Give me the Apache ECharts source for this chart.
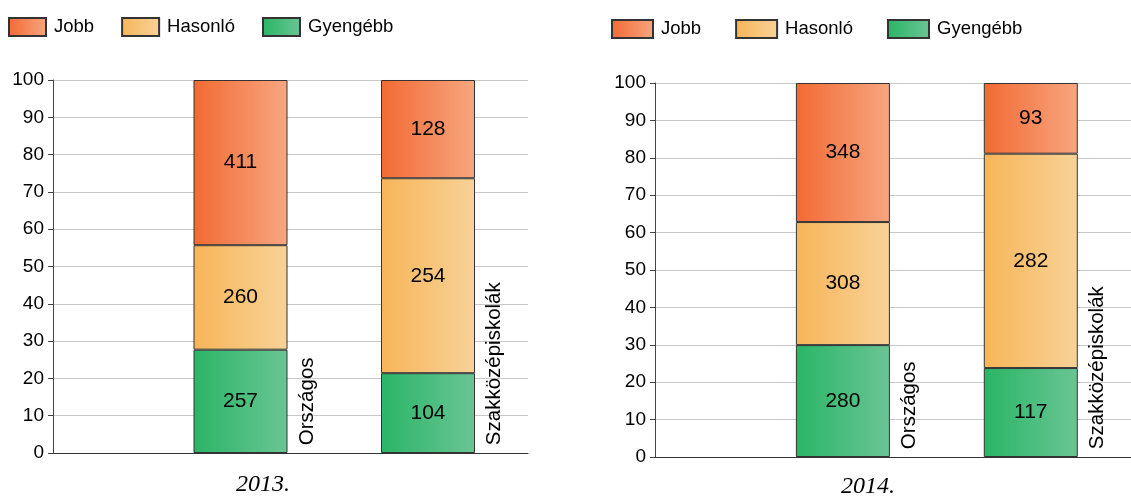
<!DOCTYPE html>
<html>
<head>
<meta charset="utf-8">
<script src="https://cdn.jsdelivr.net/npm/echarts@6/dist/echarts.min.js"></script>
<style>
  html, body { margin: 0; padding: 0; background: #fff; }
  #chart { width: 1131px; height: 498px; }
</style>
</head>
<body>
<div id="chart"></div>
<script>
const seriesNames = ['Jobb', 'Hasonló', 'Gyengébb'];
const categories = ['Országos', 'Szakközépiskolák'];
const years = ['2013.', '2014.'];

const jobb2013 = [411, 128];
const hasonlo2013 = [260, 254];
const gyengebb2013 = [257, 104];

const jobb2014 = [348, 93];
const hasonlo2014 = [308, 282];
const gyengebb2014 = [280, 117];

const yMin = 0, yMax = 100, yStep = 10;

const panels = [
  { year: years[0], counts: { 'Jobb': jobb2013, 'Hasonló': hasonlo2013, 'Gyengébb': gyengebb2013 },
    grid: { left: 53, top: 80, width: 475, height: 373 },
    legend: { left: 8, top: 17, itemWidth: 37, gap: 27 },
    title: { left: 263, top: 473 } },
  { year: years[1], counts: { 'Jobb': jobb2014, 'Hasonló': hasonlo2014, 'Gyengébb': gyengebb2014 },
    grid: { left: 655, top: 83, width: 476, height: 374 },
    legend: { left: 611, top: 19, itemWidth: 41, gap: 34 },
    title: { left: 868, top: 475 } }
];

const colors = {
  'Jobb': ['#f26a33', '#f7a680'],
  'Hasonló': ['#f7b558', '#f8d298'],
  'Gyengébb': ['#2ab566', '#6ac594']
};

function grad(name) {
  return new echarts.graphic.LinearGradient(0, 0, 1, 0, [
    { offset: 0, color: colors[name][0] },
    { offset: 1, color: colors[name][1] }
  ]);
}

// fine slots on the x axis (boundaryGap off): a category every 15 slots,
// axis runs to slot 38, empty slots everywhere else
const perCat = 15;
const nSlots = 39;
const slots = [];
for (let i = 0; i < nSlots; i++) slots.push('');
categories.forEach(function (c, ci) { slots[(ci + 1) * perCat] = c; });
const slotOf = function (ci) { return (ci + 1) * perCat; };
const labelShift = 0.355 * perCat; // right of the bar

const option = {
  animation: false,
  backgroundColor: '#fff',
  textStyle: { fontFamily: 'Liberation Sans, Arial, sans-serif' },
  title: [],
  legend: [],
  grid: [],
  xAxis: [],
  yAxis: [],
  series: []
};

panels.forEach(function (p, pi) {
  option.grid.push(p.grid);
  option.xAxis.push({
    type: 'category', gridIndex: pi, data: slots, boundaryGap: false,
    axisLabel: { show: false }, axisTick: { show: false }, splitLine: { show: false },
    axisLine: { show: true, lineStyle: { color: '#333', width: 1 } }
  });
  option.xAxis.push({
    type: 'value', gridIndex: pi, min: 0, max: nSlots - 1, show: false
  });
  option.yAxis.push({
    type: 'value', gridIndex: pi, min: yMin, max: yMax, interval: yStep,
    axisLine: { show: true, lineStyle: { color: '#444', width: 1 } },
    axisTick: { show: true, length: 5, lineStyle: { color: '#444' } },
    axisLabel: { fontSize: 19, color: '#000', margin: 9 },
    splitLine: { lineStyle: { color: '#c8c8c8', width: 1 } }
  });
  option.title.push({
    text: p.year, left: p.title.left, top: p.title.top, textAlign: 'center', padding: 0,
    textStyle: { fontFamily: 'Liberation Serif, Times New Roman, serif', fontStyle: 'italic',
      fontWeight: 'normal', fontSize: 24, color: '#000' }
  });
  option.legend.push({
    data: seriesNames, left: p.legend.left, top: p.legend.top, padding: 0,
    itemWidth: p.legend.itemWidth, itemHeight: 18, itemGap: p.legend.gap,
    icon: 'rect', selectedMode: false,
    textStyle: { fontSize: 18.5, color: '#000', padding: [0, 0, 0, 3] }
  });

  const totals = categories.map(function (c, ci) {
    return seriesNames.reduce(function (s, n) { return s + p.counts[n][ci]; }, 0);
  });

  ['Gyengébb', 'Hasonló', 'Jobb'].forEach(function (name) {
    const vals = slots.map(function () { return '-'; });
    categories.forEach(function (c, ci) {
      vals[slotOf(ci)] = { value: p.counts[name][ci] / totals[ci] * 100, count: p.counts[name][ci] };
    });
    option.series.push({
      type: 'bar', name: name, stack: 'st' + pi,
      xAxisIndex: pi * 2, yAxisIndex: pi, barWidth: 94,
      itemStyle: { color: grad(name), borderColor: '#333', borderWidth: 1 },
      label: {
        show: true, position: 'inside', fontSize: 21, color: '#000',
        formatter: function (d) { return d.data.count; }
      },
      data: vals
    });
  });

  option.series.push({
    type: 'scatter', xAxisIndex: pi * 2 + 1, yAxisIndex: pi, symbolSize: 0, silent: true,
    itemStyle: { opacity: 1, color: '#000' },
    label: {
      show: true, position: 'inside', rotate: 90, align: 'left', verticalAlign: 'middle',
      fontSize: 20.5, color: '#000', opacity: 1,
      formatter: function (d) { return d.name; }
    },
    data: categories.map(function (c, ci) {
      return { name: c, value: [slotOf(ci) + labelShift, 2.1] };
    })
  });
});

const chart = echarts.init(document.getElementById('chart'), null, { renderer: 'canvas' });
chart.setOption(option);
</script>
</body>
</html>
